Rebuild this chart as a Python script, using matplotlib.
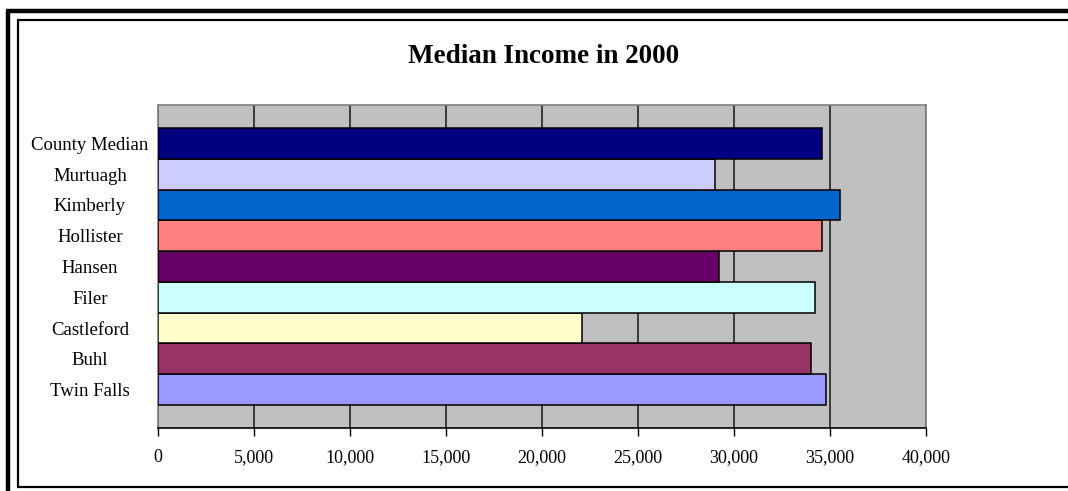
import matplotlib
matplotlib.use("Agg")
import matplotlib.pyplot as plt
from matplotlib.lines import Line2D

categories = ["Twin Falls", "Buhl", "Castleford", "Filer", "Hansen",
              "Hollister", "Kimberly", "Murtuagh", "County Median"]
values = [34800, 34000, 22100, 34200, 29200, 34600, 35500, 29000, 34600]
colors = ["#9999FF", "#993366", "#FFFFCC", "#CCFFFF", "#660066",
          "#FF8080", "#0066CC", "#CCCCFF", "#000080"]
xticks = [0, 5000, 10000, 15000, 20000, 25000, 30000, 35000, 40000]
xticklabels = ["0", "5,000", "10,000", "15,000", "20,000", "25,000",
               "30,000", "35,000", "40,000"]
title = "Median Income in 2000"

W, H = 1068, 491
fig = plt.figure(figsize=(W / 100, H / 100), dpi=100)
fig.patch.set_facecolor("white")
plt.rcParams["font.family"] = ["Liberation Serif", "DejaVu Serif"]

# frames
fig.add_artist(Line2D([8 / W, 8 / W], [0, 1 - 10.5 / H], transform=fig.transFigure,
                      color="black", lw=3.2, solid_capstyle="butt"))
fig.add_artist(Line2D([6 / W, 1], [1 - 10.5 / H, 1 - 10.5 / H], transform=fig.transFigure,
                      color="black", lw=3.2, solid_capstyle="butt"))
fig.add_artist(Line2D([17.5 / W, 17.5 / W], [1 - 486.5 / H, 1 - 19.5 / H], transform=fig.transFigure,
                      color="black", lw=1.6, solid_capstyle="butt"))
fig.add_artist(Line2D([17 / W, 1], [1 - 19.5 / H, 1 - 19.5 / H], transform=fig.transFigure,
                      color="black", lw=1.6, solid_capstyle="butt"))
fig.add_artist(Line2D([17 / W, 1], [1 - 486.5 / H, 1 - 486.5 / H], transform=fig.transFigure,
                      color="black", lw=1.6, solid_capstyle="butt"))

left, right, top, bottom = 158, 926, 105, 428
ax = fig.add_axes([left / W, 1 - bottom / H, (right - left) / W, (bottom - top) / H])
ax.set_facecolor("#C0C0C0")

y = list(range(len(categories)))
ax.barh(y, values, height=1.0, color=colors, edgecolor="black", linewidth=1.1, zorder=3)

ax.set_xlim(0, 40000)
ax.set_ylim(-1.25, len(categories) - 1 + 1.25)
ax.set_xticks(xticks)
ax.set_xticklabels(xticklabels, fontsize=13)
ax.set_yticks(y)
ax.set_yticklabels(categories, fontsize=13.5)
for lab in ax.get_yticklabels():
    lab.set_horizontalalignment("center")
ax.tick_params(axis="y", length=0, pad=49)
ax.tick_params(axis="x", direction="out", length=6, width=1, color="black", pad=9)

ax.grid(axis="x", color="#222222", linewidth=1.2, zorder=1)
ax.set_axisbelow(True)
for s in ["left", "top", "right"]:
    ax.spines[s].set_color("#808080")
    ax.spines[s].set_linewidth(1.2)
ax.spines["bottom"].set_color("black")
ax.spines["bottom"].set_linewidth(1.2)

fig.text(543.5 / W, 1 - 63.3 / H, title, ha="center", va="baseline",
         fontsize=19.5, fontweight="bold")

fig.savefig("out.png", dpi=100)
